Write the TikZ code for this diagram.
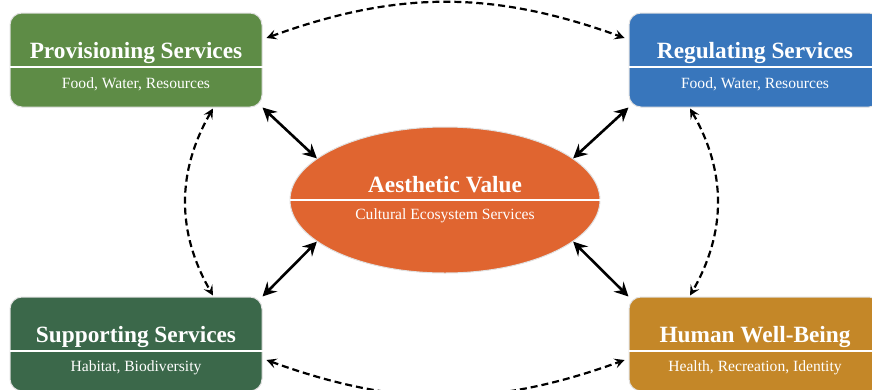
\documentclass[tikz,border=0pt]{standalone}
\usepackage{fontspec}
\setmainfont{Liberation Serif}
\usetikzlibrary{shapes.geometric,arrows.meta}
\definecolor{provc}{RGB}{94,140,70}
\definecolor{regc}{RGB}{56,118,188}
\definecolor{supc}{RGB}{59,104,74}
\definecolor{humc}{RGB}{196,135,40}
\definecolor{ellc}{RGB}{224,101,48}
\definecolor{edgec}{RGB}{225,225,225}
\begin{document}
\begin{tikzpicture}[x=1pt,y=-1pt,
  svcbox/.style={rectangle, rounded corners=12pt, minimum width=252pt, minimum height=94pt, inner sep=0pt, draw=edgec, line width=1pt},
  ellbox/.style={ellipse, minimum width=310pt, minimum height=146pt, inner sep=0pt, draw=edgec, line width=1pt, fill=ellc},
  divider/.style={draw=white, line width=1.8pt},
  ttl/.style={text=white, font=\bfseries\fontsize{23.3}{25}\selectfont, inner sep=0pt},
  sub/.style={text=white, font=\fontsize{15.6}{17}\selectfont, inner sep=0pt},
  solidarrow/.style={line width=2.6pt, {Stealth[length=14pt,width=14pt,inset=5pt]}-{Stealth[length=14pt,width=14pt,inset=5pt]}},
  dasharrow/.style={line width=2.2pt, dash pattern=on 7pt off 4pt, {Stealth[length=10pt,width=10pt,inset=4pt]}-{Stealth[length=10pt,width=10pt,inset=4pt]}}
]
\useasboundingbox (0,0) rectangle (872,389);

% boxes
\node[svcbox, fill=provc] (prov) at (136,60) {};
\node[svcbox, fill=regc] (reg) at (755,60) {};
\node[svcbox, fill=supc] (sup) at (136,344) {};
\node[svcbox, fill=humc] (hum) at (755,344) {};
\node[ellbox] (ell) at (445,200) {};

% dividers
\draw[divider] ([yshift=-7pt]prov.west) -- ([yshift=-7pt]prov.east);
\draw[divider] ([yshift=-7pt]reg.west) -- ([yshift=-7pt]reg.east);
\draw[divider] ([yshift=-7pt]sup.west) -- ([yshift=-7pt]sup.east);
\draw[divider] ([yshift=-7pt]hum.west) -- ([yshift=-7pt]hum.east);
\draw[divider] (ell.west) -- (ell.east);

% texts
\node[ttl] (provT) at ([yshift=7pt]prov.center) {Provisioning Services};
\node[sub] (provS) at ([yshift=-24pt]prov.center) {Food, Water, Resources};
\node[ttl] (regT) at ([yshift=7pt]reg.center) {Regulating Services};
\node[sub] (regS) at ([yshift=-24pt]reg.center) {Food, Water, Resources};
\node[ttl] (supT) at ([yshift=7pt]sup.center) {Supporting Services};
\node[sub] (supS) at ([yshift=-24pt]sup.center) {Habitat, Biodiversity};
\node[ttl] (humT) at ([yshift=7pt]hum.center) {Human Well-Being};
\node[sub] (humS) at ([yshift=-24pt]hum.center) {Health, Recreation, Identity};
\node[ttl] (ellT) at ([yshift=15pt]ell.center) {Aesthetic Value};
\node[sub] (ellS) at ([yshift=-16pt]ell.center) {Cultural Ecosystem Services};

% solid arrows
\draw[solidarrow] (prov.south east) -- (ell.162);
\draw[solidarrow] (reg.south west) -- (ell.18);
\draw[solidarrow] (sup.north east) -- (ell.198);
\draw[solidarrow] (hum.north west) -- (ell.342);

% dashed arrows
\draw[dasharrow] ([xshift=4pt,yshift=22pt]prov.east) to[bend left=20] ([xshift=-4pt,yshift=22pt]reg.west);
\draw[dasharrow] ([xshift=4pt,yshift=-16pt]sup.east) to[bend right=20] ([xshift=-4pt,yshift=-16pt]hum.west);
\draw[dasharrow] ([xshift=77pt,yshift=-1pt]prov.south) to[bend right=30] ([xshift=77pt,yshift=1pt]sup.north);
\draw[dasharrow] ([xshift=-65pt,yshift=-1pt]reg.south) to[bend left=30] ([xshift=-65pt,yshift=1pt]hum.north);
\end{tikzpicture}
\end{document}
